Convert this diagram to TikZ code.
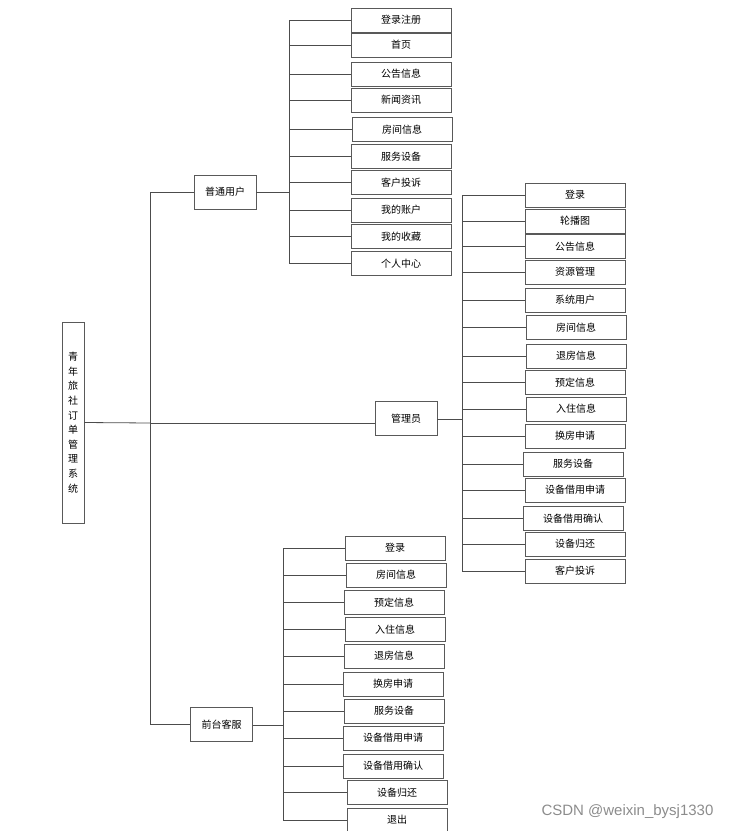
\documentclass[tikz,border=0pt]{standalone}
\usepackage{fontspec}
\setmainfont{Noto Sans CJK SC}
\newfontfamily\markfont{Liberation Sans}
\usepackage{tikz}

\begin{document}
\begin{tikzpicture}[x=1pt, y=-1pt,
  box/.style = {draw=black!65, line width=0.8pt, fill=white, inner sep=0pt,
                minimum width=100pt, minimum height=24pt, font=\fontsize{10}{12}\selectfont},
  rolebox/.style = {box, minimum width=62pt, minimum height=34pt},
  link/.style = {draw=black!70, line width=0.8pt}]
\useasboundingbox (0,0) rectangle (731,831);

% root
\node[box, minimum width=22pt, minimum height=201pt, align=center,
      font=\fontsize{10}{14.6}\selectfont] (root) at (73,422.5)
  {青\\年\\旅\\社\\订\\单\\管\\理\\系\\统};
\coordinate (mainT) at (150,423);

% roles
\node[rolebox] (pu) at (225,192) {普通用户};
\node[rolebox] (gl) at (406,418.5) {管理员};
\node[rolebox] (fk) at (221.5,724.5) {前台客服};
\coordinate (puT) at (289,192);
\coordinate (glT) at (462,419);
\coordinate (fkT) at (283,725);

% 普通用户
\node[box] (pu1) at (401,20) {登录注册};
\node[box] (pu2) at (401,45) {首页};
\node[box] (pu3) at (401,74) {公告信息};
\node[box] (pu4) at (401,100) {新闻资讯};
\node[box] (pu5) at (402,129.5) {房间信息};
\node[box] (pu6) at (401,156.5) {服务设备};
\node[box] (pu7) at (401,182.5) {客户投诉};
\node[box] (pu8) at (401,210) {我的账户};
\node[box] (pu9) at (401,236.5) {我的收藏};
\node[box] (pu10) at (401,263.5) {个人中心};

% 管理员
\node[box] (gl1) at (575,195) {登录};
\node[box] (gl2) at (575,221) {轮播图};
\node[box] (gl3) at (575,246.5) {公告信息};
\node[box] (gl4) at (575,272) {资源管理};
\node[box] (gl5) at (575,300) {系统用户};
\node[box] (gl6) at (576,327.5) {房间信息};
\node[box] (gl7) at (576,356) {退房信息};
\node[box] (gl8) at (575,382.5) {预定信息};
\node[box] (gl9) at (576,409) {入住信息};
\node[box] (gl10) at (575,436) {换房申请};
\node[box] (gl11) at (573,464) {服务设备};
\node[box] (gl12) at (575,490) {设备借用申请};
\node[box] (gl13) at (573,518.5) {设备借用确认};
\node[box] (gl14) at (575,544) {设备归还};
\node[box] (gl15) at (575,571) {客户投诉};

% 前台客服
\node[box] (fk1) at (395,548) {登录};
\node[box] (fk2) at (396,575) {房间信息};
\node[box] (fk3) at (394,602.5) {预定信息};
\node[box] (fk4) at (395,629.5) {入住信息};
\node[box] (fk5) at (394,656) {退房信息};
\node[box] (fk6) at (393,684) {换房申请};
\node[box] (fk7) at (394,711) {服务设备};
\node[box] (fk8) at (393,738) {设备借用申请};
\node[box] (fk9) at (393,766) {设备借用确认};
\node[box] (fk10) at (397,792.5) {设备归还};
\node[box] (fk11) at (397,820) {退出};

% main trunk
\draw[link] (root.east) -- (mainT);
\draw[link] (mainT |- pu.west) -- (mainT |- fk.west);
\draw[link] (mainT |- pu.west) -- (pu.west);
\draw[link] (mainT) -- (mainT -| gl.west);
\draw[link] (mainT |- fk.west) -- (fk.west);

% 普通用户 branch
\draw[link] (pu.east) -- (puT);
\draw[link] (puT |- pu1.west) -- (puT |- pu10.west);
\draw[link] (puT |- pu1.west) -- (pu1.west);
\draw[link] (puT |- pu2.west) -- (pu2.west);
\draw[link] (puT |- pu3.west) -- (pu3.west);
\draw[link] (puT |- pu4.west) -- (pu4.west);
\draw[link] (puT |- pu5.west) -- (pu5.west);
\draw[link] (puT |- pu6.west) -- (pu6.west);
\draw[link] (puT |- pu7.west) -- (pu7.west);
\draw[link] (puT |- pu8.west) -- (pu8.west);
\draw[link] (puT |- pu9.west) -- (pu9.west);
\draw[link] (puT |- pu10.west) -- (pu10.west);

% 管理员 branch
\draw[link] (gl.east |- glT) -- (glT);
\draw[link] (glT |- gl1.west) -- (glT |- gl15.west);
\draw[link] (glT |- gl1.west) -- (gl1.west);
\draw[link] (glT |- gl2.west) -- (gl2.west);
\draw[link] (glT |- gl3.west) -- (gl3.west);
\draw[link] (glT |- gl4.west) -- (gl4.west);
\draw[link] (glT |- gl5.west) -- (gl5.west);
\draw[link] (glT |- gl6.west) -- (gl6.west);
\draw[link] (glT |- gl7.west) -- (gl7.west);
\draw[link] (glT |- gl8.west) -- (gl8.west);
\draw[link] (glT |- gl9.west) -- (gl9.west);
\draw[link] (glT |- gl10.west) -- (gl10.west);
\draw[link] (glT |- gl11.west) -- (gl11.west);
\draw[link] (glT |- gl12.west) -- (gl12.west);
\draw[link] (glT |- gl13.west) -- (gl13.west);
\draw[link] (glT |- gl14.west) -- (gl14.west);
\draw[link] (glT |- gl15.west) -- (gl15.west);

% 前台客服 branch
\draw[link] (fk.east |- fkT) -- (fkT);
\draw[link] (fkT |- fk1.west) -- (fkT |- fk11.west);
\draw[link] (fkT |- fk1.west) -- (fk1.west);
\draw[link] (fkT |- fk2.west) -- (fk2.west);
\draw[link] (fkT |- fk3.west) -- (fk3.west);
\draw[link] (fkT |- fk4.west) -- (fk4.west);
\draw[link] (fkT |- fk5.west) -- (fk5.west);
\draw[link] (fkT |- fk6.west) -- (fk6.west);
\draw[link] (fkT |- fk7.west) -- (fk7.west);
\draw[link] (fkT |- fk8.west) -- (fk8.west);
\draw[link] (fkT |- fk9.west) -- (fk9.west);
\draw[link] (fkT |- fk10.west) -- (fk10.west);
\draw[link] (fkT |- fk11.west) -- (fk11.west);

\node[font=\markfont\fontsize{15}{17}\selectfont, text=black!45, anchor=east] (mark) at (717,812) {CSDN @weixin\_bysj1330};
\end{tikzpicture}
\end{document}
